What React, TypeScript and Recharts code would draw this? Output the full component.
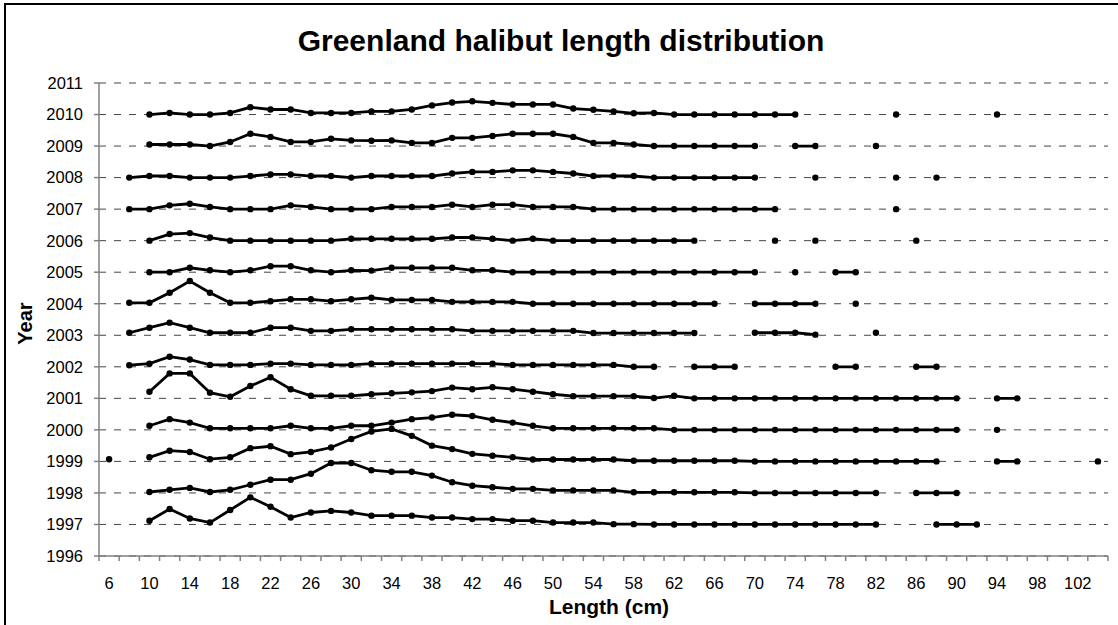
import React from "react";
import { LineChart, Line, XAxis, YAxis, CartesianGrid } from "recharts";

// length classes (cm), one point every 2 cm
const LENGTHS = [
  6, 8, 10, 12, 14, 16, 18, 20, 22, 24, 26, 28, 30, 32, 34, 36, 38, 40, 42, 44,
  46, 48, 50, 52, 54, 56, 58, 60, 62, 64, 66, 68, 70, 72, 74, 76, 78, 80, 82, 84,
  86, 88, 90, 92, 94, 96, 98, 100, 102, 104,
];
const LENGTH_LABELS = [
  6, 10, 14, 18, 22, 26, 30, 34, 38, 42, 46, 50, 54, 58, 62, 66, 70, 74, 78, 82,
  86, 90, 94, 98, 102,
];
const YEAR_TICKS = [
  1996, 1997, 1998, 1999, 2000, 2001, 2002, 2003, 2004, 2005, 2006, 2007, 2008,
  2009, 2010, 2011,
];

const _ = null;

// relative frequency per length class, drawn on top of each year's baseline
const y2010 = [
  _, _, 0, .05, 0, 0, .05, .23, .16, .16,
  .05, .05, .05, .1, .1, .16, .29, .38, .42, .37,
  .32, .32, .32, .19, .15, .1, .04, .05, 0, 0,
  0, 0, 0, 0, 0, _, _, _, _, 0,
  _, _, _, _, 0, _, _, _, _, _,
];
const y2009 = [
  _, _, .05, .05, .05, 0, .13, .39, .29, .13,
  .13, .23, .18, .17, .18, .1, .1, .26, .26, .32,
  .39, .39, .39, .29, .1, .1, .05, 0, 0, 0,
  0, 0, 0, _, 0, 0, _, _, 0, _,
  _, _, _, _, _, _, _, _, _, _,
];
const y2008 = [
  _, 0, .05, .05, 0, 0, 0, .05, .1, .1,
  .05, .05, 0, .05, .05, .05, .05, .13, .18, .18,
  .23, .23, .18, .13, .05, .05, .05, 0, 0, 0,
  0, 0, 0, _, _, 0, _, _, _, 0,
  _, 0, _, _, _, _, _, _, _, _,
];
const y2007 = [
  _, 0, 0, .12, .17, .07, 0, 0, 0, .12,
  .07, 0, 0, 0, .07, .07, .07, .14, .07, .14,
  .14, .07, .07, .07, 0, 0, 0, 0, 0, 0,
  0, 0, 0, 0, _, _, _, _, _, 0,
  _, _, _, _, _, _, _, _, _, _,
];
const y2006 = [
  _, _, 0, .21, .24, .1, 0, 0, 0, 0,
  0, 0, .06, .06, .06, .06, .06, .1, .1, .06,
  0, .06, 0, 0, 0, 0, 0, 0, 0, 0,
  _, _, _, 0, _, 0, _, _, _, _,
  0, _, _, _, _, _, _, _, _, _,
];
const y2005 = [
  _, _, 0, 0, .14, .06, 0, .06, .19, .19,
  .06, 0, .06, .05, .14, .14, .14, .14, .06, .06,
  0, 0, 0, 0, 0, 0, 0, 0, 0, 0,
  0, 0, 0, _, 0, _, 0, 0, _, _,
  _, _, _, _, _, _, _, _, _, _,
];
const y2004 = [
  _, .03, .03, .35, .72, .35, .03, .03, .08, .14,
  .14, .08, .14, .19, .12, .12, .12, .06, .06, .06,
  .06, 0, 0, 0, 0, 0, 0, 0, 0, 0,
  0, _, 0, 0, 0, 0, _, 0, _, _,
  _, _, _, _, _, _, _, _, _, _,
];
const y2003 = [
  _, .08, .24, .4, .24, .08, .08, .08, .24, .24,
  .14, .14, .19, .19, .19, .19, .19, .19, .14, .14,
  .14, .14, .14, .14, .07, .07, .07, .07, .07, .07,
  _, _, .08, .08, .08, .02, _, _, .08, _,
  _, _, _, _, _, _, _, _, _, _,
];
const y2002 = [
  _, .05, .1, .32, .23, .06, .06, .06, .1, .1,
  .06, .06, .06, .1, .1, .1, .1, .1, .1, .1,
  .06, .06, .06, .06, .06, .06, 0, 0, _, 0,
  0, 0, _, _, _, _, 0, 0, _, _,
  0, 0, _, _, _, _, _, _, _, _,
];
const y2001 = [
  _, _, .21, .79, .79, .18, .05, .39, .67, .29,
  .08, .08, .08, .13, .16, .19, .23, .34, .29, .35,
  .29, .21, .13, .07, .07, .07, .07, .01, .08, 0,
  0, 0, 0, 0, 0, 0, 0, 0, 0, 0,
  0, 0, 0, _, 0, 0, _, _, _, _,
];
const y2000 = [
  _, _, .13, .34, .23, .05, .05, .05, .05, .13,
  .05, .05, .13, .13, .23, .34, .39, .48, .44, .32,
  .23, .13, .05, .05, .05, .05, .05, .05, 0, 0,
  0, 0, 0, 0, 0, 0, 0, 0, 0, 0,
  0, 0, 0, _, 0, _, _, _, _, _,
];
const y1999 = [
  .07, _, .13, .34, .3, .07, .13, .42, .48, .23,
  .3, .44, .71, .95, 1.03, .81, .5, .39, .24, .18,
  .13, .06, .06, .06, .06, .06, .02, .02, .02, .02,
  .02, .02, 0, 0, 0, 0, 0, 0, 0, 0,
  0, 0, _, _, 0, 0, _, _, _, 0,
];
const y1998 = [
  _, _, .03, .1, .16, .03, .1, .26, .42, .42,
  .61, .95, .95, .72, .67, .67, .55, .34, .23, .18,
  .13, .13, .08, .08, .08, .08, .02, .02, .02, .02,
  .02, .02, 0, 0, 0, 0, 0, 0, 0, _,
  0, 0, 0, _, _, _, _, _, _, _,
];
const y1997 = [
  _, _, .12, .49, .19, .06, .46, .86, .56, .22,
  .38, .43, .38, .28, .28, .28, .22, .22, .17, .17,
  .12, .12, .06, .06, .06, .01, .01, 0, 0, 0,
  0, 0, 0, 0, 0, 0, 0, 0, 0, _,
  _, 0, 0, 0, _, _, _, _, _, _,
];

const SERIES: [number, (number | null)[]][] = [
  [2010, y2010], [2009, y2009], [2008, y2008], [2007, y2007], [2006, y2006],
  [2005, y2005], [2004, y2004], [2003, y2003], [2002, y2002], [2001, y2001],
  [2000, y2000], [1999, y1999], [1998, y1998], [1997, y1997],
];

const data = LENGTHS.map((len, i) => {
  const row: Record<string, number | null> = { len };
  SERIES.forEach(([year, vals]) => {
    row[String(year)] = vals[i] == null ? null : year + (vals[i] as number);
  });
  return row;
});

// class boundaries, where Excel puts the category tick marks
const BOUNDARIES = [LENGTHS[0] - 1, ...LENGTHS.map((l) => l + 1)];
const X_TICKS = [...BOUNDARIES, ...LENGTH_LABELS].sort((a, b) => a - b);

const FONT = '"Liberation Sans", Arial, sans-serif';
const AXIS_GREY = "#808080";
const TICK_SIZE = 5;
const TICK_MARGIN = 16;

const XTick = (props: any) => {
  const { x, y, payload } = props;
  const v = payload.value;
  if (LENGTH_LABELS.includes(v)) {
    return (
      <text x={x} y={y} dy="0.71em" textAnchor="middle" fill="#000" fontSize={16.5} fontFamily={FONT}>
        {v}
      </text>
    );
  }
  return (
    <line
      x1={x}
      x2={x}
      y1={y - TICK_MARGIN - TICK_SIZE}
      y2={y - TICK_MARGIN}
      stroke={AXIS_GREY}
      strokeWidth={1.5}
    />
  );
};

export default function App() {
  return (
    <div
      style={{
        position: "absolute",
        top: 0,
        left: 0,
        width: 1118,
        height: 625,
        overflow: "hidden",
        background: "#fff",
        fontFamily: FONT,
      }}
    >
      {/* chart area frame, cut off at the right and bottom */}
      <div
        style={{
          position: "absolute",
          top: 3,
          left: 4,
          width: 1200,
          height: 700,
          border: "2px solid #000",
        }}
      />
      <div
        style={{
          position: "absolute",
          top: 24,
          left: 0,
          width: 1122,
          textAlign: "center",
          fontSize: 30,
          fontWeight: "bold",
          color: "#000",
        }}
      >
        Greenland halibut length distribution
      </div>
      <div style={{ position: "absolute", top: 0, left: 0 }}>
        <LineChart
          width={1118}
          height={625}
          data={data}
          margin={{ top: 83, right: 10, left: 0, bottom: 39 }}
        >
          <CartesianGrid
            vertical={false}
            stroke="#444"
            strokeDasharray="7 8"
          />
          <XAxis
            dataKey="len"
            type="number"
            domain={[5, 105]}
            ticks={X_TICKS}
            interval={0}
            height={30}
            tickSize={TICK_SIZE}
            tickMargin={TICK_MARGIN}
            tickLine={false}
            axisLine={{ stroke: AXIS_GREY, strokeWidth: 1.5 }}
            tick={<XTick />}
            label={{
              content: () => (
                <text
                  x={609}
                  y={614}
                  textAnchor="middle"
                  fontSize={21}
                  fontWeight="bold"
                  fontFamily={FONT}
                  fill="#000"
                >
                  Length (cm)
                </text>
              ),
            }}
          />
          <YAxis
            type="number"
            domain={[1996, 2011]}
            ticks={YEAR_TICKS}
            interval={0}
            width={99}
            tickSize={TICK_SIZE}
            tickMargin={11}
            axisLine={{ stroke: AXIS_GREY, strokeWidth: 1.5 }}
            tickLine={{ stroke: AXIS_GREY, strokeWidth: 1.5 }}
            tick={{ fill: "#000", fontSize: 16.5, fontFamily: FONT }}
            label={{
              content: (p: any) => {
                const vb = p.viewBox;
                const cx = 25;
                const cy = vb.y + vb.height / 2 + 4;
                return (
                  <text
                    x={cx}
                    y={cy}
                    transform={`rotate(-90, ${cx}, ${cy})`}
                    textAnchor="middle"
                    dominantBaseline="central"
                    fontSize={20}
                    fontWeight="bold"
                    fontFamily={FONT}
                    fill="#000"
                  >
                    Year
                  </text>
                );
              },
            }}
          />
          {SERIES.map(([year]) => (
            <Line
              key={year}
              dataKey={String(year)}
              type="linear"
              stroke="#000"
              strokeWidth={2.8}
              dot={{ r: 3.2, fill: "#000", stroke: "#000", strokeWidth: 0 }}
              activeDot={false}
              connectNulls={false}
              isAnimationActive={false}
            />
          ))}
        </LineChart>
      </div>
    </div>
  );
}
